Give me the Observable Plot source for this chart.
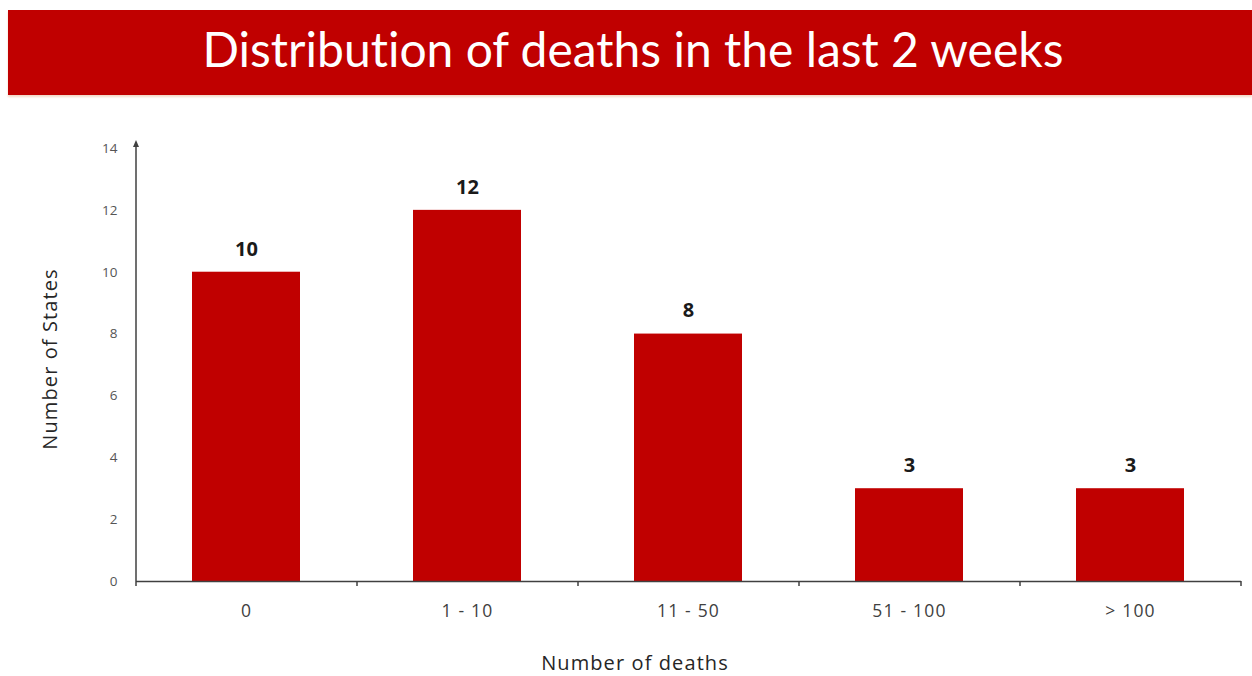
<!DOCTYPE html>
<html>
<head>
<meta charset="utf-8">
<script src="https://cdn.jsdelivr.net/npm/d3@7"></script>
<script src="https://cdn.jsdelivr.net/npm/@observablehq/plot@0.6"></script>
<style>
  html, body { margin: 0; padding: 0; background: #fff; overflow: hidden; }
  #banner {
    position: absolute; left: 8px; top: 10px; right: 0; height: 85px;
    background: #c00000; color: #fff;
    font-family: Lato, "Open Sans", sans-serif; font-size: 48px;
    font-variant-ligatures: none; font-feature-settings: "liga" 0;
    display: flex; align-items: center; justify-content: center;
    box-shadow: 0 2px 2px #f3d9c8;
  }
  #banner span { position: relative; left: 3px; top: -4px; }
  #chart { position: absolute; left: 0; top: 100px; }
</style>
</head>
<body>
<div id="banner"><span>Distribution of deaths in the last 2 weeks</span></div>
<div id="chart"></div>
<script>
const categories = ["0", "1 - 10", "11 - 50", "51 - 100", "> 100"];
const counts = [10, 12, 8, 3, 3];
const yTicks = [0, 2, 4, 6, 8, 10, 12, 14];
const xTitle = "Number of deaths";
const yTitle = "Number of States";

const data = categories.map((c, i) => ({category: c, count: counts[i]}));
const axisColor = "#404040";
const font = "'Open Sans', Lato, sans-serif";

// y axis line with arrow, derived from the plot dimensions
const yAxisLine = (index, scales, values, dims) => {
  const x0 = dims.marginLeft;
  const yTop = dims.marginTop - 8;
  const yBot = dims.height - dims.marginBottom + 5;
  const g = d3.create("svg:g");
  g.append("line").attr("x1", x0).attr("x2", x0).attr("y1", yTop + 4).attr("y2", yBot)
    .attr("stroke", axisColor).attr("stroke-width", 1.5);
  g.append("path").attr("d", `M${x0},${yTop} L${x0 - 3},${yTop + 7} L${x0 + 3},${yTop + 7} Z`)
    .attr("fill", axisColor);
  return g.node();
};

// x axis category boundary ticks
const xBoundaryTicks = (index, scales, values, dims) => {
  const n = categories.length;
  const w = dims.width - dims.marginLeft - dims.marginRight;
  const y0 = dims.height - dims.marginBottom;
  const g = d3.create("svg:g");
  for (let i = 1; i <= n; i++) {
    const x = dims.marginLeft + i * w / n;
    g.append("line").attr("x1", x).attr("x2", x).attr("y1", y0).attr("y2", y0 + 5)
      .attr("stroke", axisColor).attr("stroke-width", 1.5);
  }
  return g.node();
};

const plot = Plot.plot({
  width: 1252,
  height: 576,
  marginTop: 48,
  marginBottom: 95,
  marginLeft: 136,
  marginRight: 11,
  style: {fontFamily: font, background: "transparent"},
  x: {domain: categories, paddingInner: 0.51, paddingOuter: 0.255, label: null},
  y: {domain: [0, 14], label: null},
  marks: [
    Plot.barY(data, {x: "category", y: "count", fill: "#c00000"}),
    Plot.ruleY([0], {stroke: axisColor, strokeWidth: 1.5}),
    yAxisLine,
    xBoundaryTicks,
    Plot.text(data, {x: "category", y: "count", text: d => String(d.count), dy: -23,
      fontSize: 20, fontWeight: "bold", fill: "#1a1a1a"}),
    Plot.axisY(yTicks, {tickSize: 0, tickPadding: 19, fontSize: 13.5, color: "#555", label: null}),
    Plot.axisX({tickSize: 0, tickPadding: 23, fontSize: 17.5, color: "#404040", label: null}),
    Plot.text([yTitle], {frameAnchor: "left", textAnchor: "middle", dx: -86, dy: -6, rotate: -90,
      fontSize: 20, fill: "#262626"}),
    Plot.text([xTitle], {frameAnchor: "bottom", dx: -54, dy: 88, fontSize: 20, fill: "#262626"})
  ]
});
// letter spacing to match the wide source lettering
d3.select(plot).selectAll("text")
  .filter(function () { return this.textContent === xTitle || this.textContent === yTitle; })
  .style("letter-spacing", "1.1px");
d3.select(plot).selectAll('g[aria-label="x-axis tick label"] text')
  .style("letter-spacing", "1.2px");
document.getElementById("chart").appendChild(plot);
</script>
</body>
</html>
